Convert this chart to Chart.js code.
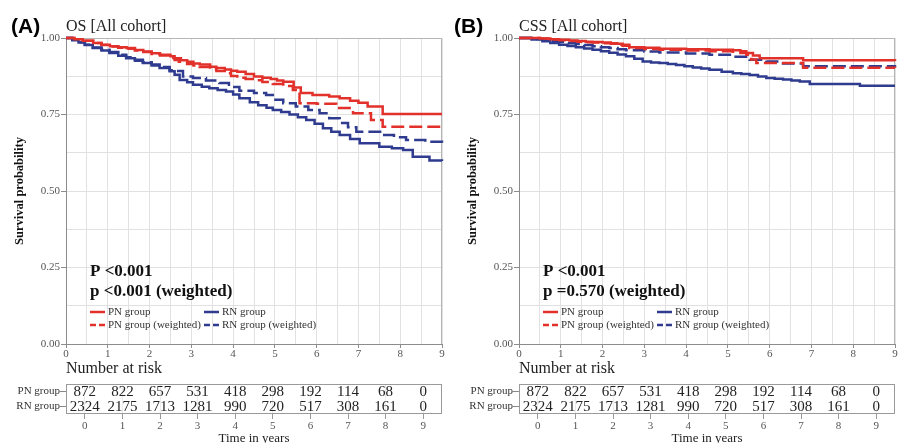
<!DOCTYPE html>
<html>
<head>
<meta charset="utf-8">
<title>OS / CSS Kaplan-Meier, all cohort</title>
<script src="https://cdn.jsdelivr.net/npm/chart.js@4.4.1/dist/chart.umd.min.js"></script>
<style>
    html, body { margin: 0; padding: 0; background: #fff; }
    body { width: 904px; height: 443px; position: relative; overflow: hidden; }
    .panel { position: absolute; top: 0; width: 451px; height: 443px; }
    .panel canvas { position: absolute; left: 0; }
</style>
</head>
<body>
<div class="panel" id="panelA" style="left:0"></div>
<div class="panel" id="panelB" style="left:453px"></div>
<script>
// ---- data ----
const years = ['0', '1', '2', '3', '4', '5', '6', '7', '8', '9'];
const riskLabels = ['PN group', 'RN group'];
const riskPN = [872, 822, 657, 531, 418, 298, 192, 114, 68, 0];
const riskRN = [2324, 2175, 1713, 1281, 990, 720, 517, 308, 161, 0];

// (A) overall survival
const osTimePN = [0, 0.2, 0.4, 0.65, 0.85, 1.05, 1.25, 1.45, 1.65, 1.85, 2.05, 2.25, 2.5, 2.6, 2.75, 2.9, 3.05, 3.2, 3.45, 3.6, 3.8, 3.95, 4.1, 4.3, 4.5, 4.7, 4.9, 5.05, 5.2, 5.45, 5.62, 5.9, 6.3, 6.55, 6.8, 7.0, 7.22, 7.58, 9];
const osPN = [1, 0.996, 0.991, 0.984, 0.978, 0.973, 0.97, 0.967, 0.961, 0.956, 0.95, 0.945, 0.94, 0.934, 0.927, 0.922, 0.917, 0.913, 0.906, 0.902, 0.897, 0.893, 0.89, 0.882, 0.874, 0.87, 0.866, 0.861, 0.857, 0.838, 0.82, 0.814, 0.809, 0.803, 0.795, 0.788, 0.776, 0.752, 0.752];
const osTimePNw = [0, 0.2, 0.4, 0.65, 0.85, 1.05, 1.25, 1.45, 1.65, 1.85, 2.05, 2.25, 2.5, 2.6, 2.7, 2.9, 3.05, 3.2, 3.45, 3.6, 3.8, 3.95, 4.1, 4.3, 4.5, 4.7, 4.95, 5.2, 5.43, 5.59, 6.0, 6.47, 6.87, 7.3, 7.58, 9];
const osPNw = [1, 0.996, 0.991, 0.984, 0.977, 0.972, 0.968, 0.965, 0.959, 0.954, 0.948, 0.943, 0.935, 0.928, 0.922, 0.915, 0.91, 0.905, 0.898, 0.892, 0.885, 0.876, 0.87, 0.866, 0.862, 0.856, 0.85, 0.843, 0.83, 0.787, 0.785, 0.771, 0.754, 0.732, 0.71, 0.71];
const osTimeRN = [0, 0.15, 0.3, 0.45, 0.64, 0.85, 1.04, 1.25, 1.44, 1.65, 1.84, 2.05, 2.24, 2.48, 2.6, 2.72, 2.9, 3.04, 3.25, 3.43, 3.63, 3.83, 4.0, 4.15, 4.4, 4.6, 4.8, 4.95, 5.15, 5.35, 5.55, 5.75, 5.95, 6.15, 6.35, 6.55, 6.8, 7.03, 7.5, 7.8, 8.07, 8.3, 8.7, 9];
const osRN = [1, 0.993, 0.985, 0.977, 0.967, 0.959, 0.951, 0.942, 0.934, 0.926, 0.918, 0.91, 0.902, 0.891, 0.88, 0.863, 0.855, 0.847, 0.841, 0.836, 0.83, 0.825, 0.815, 0.803, 0.79, 0.78, 0.772, 0.765, 0.758, 0.75, 0.741, 0.732, 0.72, 0.705, 0.694, 0.683, 0.67, 0.656, 0.645, 0.64, 0.634, 0.612, 0.6, 0.598];
const osTimeRNw = [0, 0.15, 0.3, 0.45, 0.64, 0.85, 1.04, 1.25, 1.44, 1.65, 1.84, 2.05, 2.24, 2.48, 2.6, 2.8, 3.04, 3.35, 3.67, 3.9, 4.15, 4.5, 4.79, 4.95, 5.2, 5.5, 5.8, 6.07, 6.3, 6.55, 6.75, 6.95, 7.58, 7.85, 8.14, 8.6, 9];
const osRNw = [1, 0.994, 0.986, 0.978, 0.969, 0.962, 0.954, 0.945, 0.937, 0.929, 0.921, 0.913, 0.905, 0.895, 0.892, 0.874, 0.869, 0.861, 0.853, 0.84, 0.828, 0.82, 0.814, 0.798, 0.787, 0.776, 0.765, 0.754, 0.738, 0.722, 0.708, 0.694, 0.683, 0.676, 0.667, 0.661, 0.658];

// (B) cancer-specific survival
const cssTimePN = [0, 0.5, 0.75, 0.96, 1.2, 1.4, 1.6, 1.76, 2.0, 2.2, 2.35, 2.48, 2.64, 3.0, 3.36, 4.0, 4.56, 5.12, 5.3, 5.44, 5.6, 5.76, 6.8, 9];
const cssPN = [1, 0.998, 0.996, 0.994, 0.992, 0.99, 0.988, 0.987, 0.985, 0.983, 0.981, 0.978, 0.97, 0.968, 0.965, 0.963, 0.962, 0.96, 0.957, 0.951, 0.943, 0.934, 0.927, 0.925];
const cssTimePNw = [0, 0.5, 0.75, 0.96, 1.2, 1.4, 1.6, 1.76, 2.0, 2.2, 2.35, 2.48, 2.64, 3.0, 3.36, 4.0, 4.56, 5.12, 5.3, 5.44, 5.56, 5.68, 6.8, 9];
const cssPNw = [1, 0.998, 0.995, 0.993, 0.99, 0.988, 0.986, 0.985, 0.983, 0.981, 0.978, 0.975, 0.967, 0.964, 0.962, 0.959, 0.957, 0.955, 0.951, 0.945, 0.93, 0.918, 0.903, 0.902];
const cssTimeRN = [0, 0.3, 0.56, 0.75, 0.96, 1.16, 1.36, 1.56, 1.76, 1.96, 2.16, 2.36, 2.56, 2.76, 2.96, 3.16, 3.36, 3.56, 3.76, 3.96, 4.16, 4.36, 4.56, 4.85, 5.12, 5.32, 5.52, 5.72, 5.92, 6.12, 6.32, 6.52, 6.72, 6.96, 8.16, 9];
const cssRN = [1, 0.995, 0.989, 0.984, 0.978, 0.974, 0.97, 0.966, 0.962, 0.957, 0.952, 0.946, 0.94, 0.932, 0.923, 0.92, 0.918, 0.915, 0.912, 0.908, 0.904, 0.9, 0.896, 0.89, 0.885, 0.882, 0.879, 0.874, 0.869, 0.867, 0.864, 0.861, 0.858, 0.85, 0.844, 0.844];
const cssTimeRNw = [0, 0.3, 0.56, 0.75, 0.96, 1.16, 1.36, 1.56, 1.76, 1.96, 2.16, 2.36, 2.56, 3.0, 3.36, 4.0, 4.56, 5.12, 5.52, 5.92, 6.32, 6.8, 9];
const cssRNw = [1, 0.997, 0.993, 0.99, 0.987, 0.983, 0.98, 0.977, 0.973, 0.97, 0.967, 0.963, 0.96, 0.956, 0.953, 0.949, 0.945, 0.939, 0.929, 0.923, 0.917, 0.908, 0.906];

const SERIF = '"Liberation Serif", "Times New Roman", serif';
const RED = '#e2312b';
const BLUE = '#2e3b8e';
const GRID = '#e1e1e1';

Chart.defaults.font.family = SERIF;
Chart.defaults.animation = false;

function toPoints(times, surv) {
    return times.map((t, i) => ({ x: t, y: surv[i] }));
}

function kmDataset(label, times, surv, color, weighted) {
    return {
        label: label,
        data: toPoints(times, surv),
        borderColor: color,
        backgroundColor: color,
        borderWidth: 2.5,
        borderDash: weighted ? [13, 5] : [],
        stepped: true,
        pointRadius: 0,
        fill: false,
        clip: 3
    };
}

// frame, panel tag, title, p values and legend
const kmAnnotations = {
    id: 'kmAnnotations',
    beforeDatasetsDraw(chart) {
        const { ctx, chartArea: a } = chart;
        ctx.save();
        ctx.strokeStyle = '#b5b5b5';
        ctx.lineWidth = 1;
        ctx.beginPath();
        ctx.moveTo(a.left, a.top + 0.5);
        ctx.lineTo(a.right - 0.5, a.top + 0.5);
        ctx.lineTo(a.right - 0.5, a.bottom);
        ctx.stroke();
        ctx.restore();
    },
    afterDraw(chart, args, opts) {
        const { ctx, chartArea: a } = chart;
        ctx.save();
        ctx.textBaseline = 'alphabetic';
        ctx.fillStyle = '#000';
        ctx.font = 'bold 21px "Liberation Sans", Arial, sans-serif';
        ctx.fillText(opts.tag, opts.tagX, 33);
        ctx.fillStyle = '#222';
        ctx.font = '16px ' + SERIF;
        ctx.fillText(opts.title, a.left, 31);

        ctx.textBaseline = 'middle';
        ctx.fillStyle = '#111';
        ctx.font = 'bold 17px ' + SERIF;
        opts.pLines.forEach((s, i) => ctx.fillText(s, a.left + 24, 272 + i * 20));

        // legend: 2 x 2
        const colX = [a.left + 24, a.left + 138];
        const rowY = [312, 325];
        ctx.font = '11px ' + SERIF;
        chart.data.datasets.forEach((ds, i) => {
            const x = colX[i % 2];
            const y = rowY[Math.floor(i / 2)];
            ctx.strokeStyle = ds.borderColor;
            ctx.lineWidth = 2.5;
            ctx.setLineDash(ds.borderDash.length ? [6, 3] : []);
            ctx.beginPath();
            ctx.moveTo(x, y);
            ctx.lineTo(x + 15, y);
            ctx.stroke();
            ctx.setLineDash([]);
            ctx.fillStyle = '#333';
            ctx.fillText(ds.label, x + 18, y);
        });
        ctx.restore();
    }
};

// box, "Number at risk" and the counts
const riskTable = {
    id: 'riskTable',
    afterDraw(chart) {
        const { ctx, chartArea: a } = chart;
        ctx.save();
        ctx.strokeStyle = '#9a9a9a';
        ctx.lineWidth = 1;
        ctx.strokeRect(a.left + 0.5, a.top + 0.5, a.right - a.left - 1, a.bottom - a.top - 1);

        ctx.fillStyle = '#222';
        ctx.textBaseline = 'middle';
        ctx.font = '16px ' + SERIF;
        ctx.fillText('Number at risk', a.left, 11);

        ctx.font = '15px ' + SERIF;
        ctx.textAlign = 'center';
        const ds = chart.data.datasets[0];
        chart.getDatasetMeta(0).data.forEach((pt, i) => {
            ctx.fillText(String(ds.data[i].n), pt.x, pt.y + 1);
        });
        ctx.restore();
    }
};

function makeSurvivalChart(panel, cfg) {
    const canvas = document.createElement('canvas');
    canvas.width = 451;
    canvas.height = 362;
    canvas.style.top = '0px';
    panel.appendChild(canvas);

    return new Chart(canvas, {
        type: 'line',
        data: {
            datasets: [
                kmDataset('PN group', cfg.tPN, cfg.sPN, RED, false),
                kmDataset('RN group', cfg.tRN, cfg.sRN, BLUE, false),
                kmDataset('PN group (weighted)', cfg.tPNw, cfg.sPNw, RED, true),
                kmDataset('RN group (weighted)', cfg.tRNw, cfg.sRNw, BLUE, true)
            ]
        },
        options: {
            responsive: false,
            events: [],
            layout: { padding: { top: 38, right: 9, left: 0, bottom: 0 } },
            plugins: {
                legend: { display: false },
                tooltip: { enabled: false },
                kmAnnotations: { tag: cfg.tag, tagX: cfg.tagX, title: cfg.title, pLines: cfg.pLines }
            },
            scales: {
                x: {
                    type: 'linear',
                    min: 0,
                    max: 9,
                    afterFit: s => { s.height = 18; },
                    border: { color: '#8c8c8c' },
                    grid: {
                        color: GRID,
                        tickLength: 4,
                        tickColor: c => Number.isInteger(c.tick.value) ? '#8c8c8c' : 'rgba(0,0,0,0)'
                    },
                    ticks: {
                        stepSize: 0.5,
                        autoSkip: false,
                        maxRotation: 0,
                        padding: 0,
                        color: '#555',
                        font: { size: 11 },
                        callback: v => Number.isInteger(v) ? String(v) : ''
                    }
                },
                y: {
                    type: 'linear',
                    min: 0,
                    max: 1,
                    afterFit: s => { s.width = 66; },
                    border: { color: '#8c8c8c' },
                    grid: {
                        color: GRID,
                        tickLength: 5,
                        tickColor: c => (c.tick.value * 4) % 1 === 0 ? '#8c8c8c' : 'rgba(0,0,0,0)'
                    },
                    ticks: {
                        stepSize: 0.125,
                        autoSkip: false,
                        padding: 1,
                        color: '#555',
                        font: { size: 11 },
                        callback: v => (v * 4) % 1 === 0 ? v.toFixed(2) : ''
                    },
                    title: {
                        display: true,
                        text: 'Survival probability',
                        color: '#111',
                        font: { size: 12.5, weight: 'bold' },
                        padding: { top: 12, bottom: 0 }
                    }
                }
            }
        },
        plugins: [kmAnnotations]
    });
}

function makeRiskTable(panel) {
    const canvas = document.createElement('canvas');
    canvas.width = 451;
    canvas.height = 85;
    canvas.style.top = '358px';
    panel.appendChild(canvas);

    const cells = riskPN.map((n, i) => ({ x: years[i], y: riskLabels[0], n: n }))
        .concat(riskRN.map((n, i) => ({ x: years[i], y: riskLabels[1], n: n })));

    return new Chart(canvas, {
        type: 'line',
        data: {
            datasets: [{ data: cells, showLine: false, pointRadius: 0 }]
        },
        options: {
            responsive: false,
            events: [],
            layout: { padding: { top: 26, right: 9, left: 0, bottom: 0 } },
            plugins: { legend: { display: false }, tooltip: { enabled: false } },
            scales: {
                x: {
                    type: 'category',
                    labels: years,
                    offset: true,
                    afterFit: s => { s.height = 29; },
                    border: { display: false },
                    grid: { offset: false, color: '#ececec', tickColor: '#999', tickLength: 5 },
                    ticks: { color: '#555', font: { size: 11 }, padding: 1, maxRotation: 0, autoSkip: false },
                    title: {
                        display: true,
                        text: 'Time in years',
                        color: '#222',
                        font: { size: 13, lineHeight: 0.7 },
                        padding: 0
                    }
                },
                y: {
                    type: 'category',
                    labels: riskLabels,
                    offset: true,
                    afterFit: s => { s.width = 66; },
                    border: { display: false },
                    grid: { offset: false, color: 'rgba(0,0,0,0)', tickColor: '#888', tickLength: 6 },
                    ticks: { color: '#333', font: { size: 11 }, padding: 0, autoSkip: false }
                }
            }
        },
        plugins: [riskTable]
    });
}

makeSurvivalChart(document.getElementById('panelA'), {
    tag: '(A)', tagX: 11, title: 'OS [All cohort]',
    pLines: ['P <0.001', 'p <0.001 (weighted)'],
    tPN: osTimePN, sPN: osPN, tRN: osTimeRN, sRN: osRN,
    tPNw: osTimePNw, sPNw: osPNw, tRNw: osTimeRNw, sRNw: osRNw
});
makeRiskTable(document.getElementById('panelA'));

makeSurvivalChart(document.getElementById('panelB'), {
    tag: '(B)', tagX: 1, title: 'CSS [All cohort]',
    pLines: ['P <0.001', 'p =0.570 (weighted)'],
    tPN: cssTimePN, sPN: cssPN, tRN: cssTimeRN, sRN: cssRN,
    tPNw: cssTimePNw, sPNw: cssPNw, tRNw: cssTimeRNw, sRNw: cssRNw
});
makeRiskTable(document.getElementById('panelB'));
</script>
</body>
</html>
